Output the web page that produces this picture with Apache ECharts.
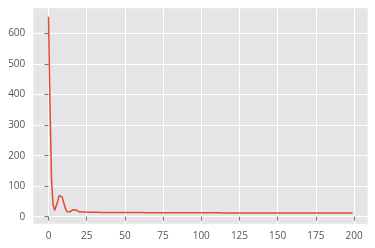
<!DOCTYPE html>
<html><head><meta charset="utf-8">
<script src="https://cdn.jsdelivr.net/npm/echarts@6/dist/echarts.min.js"></script>
<style>html,body{margin:0;padding:0;background:#fff}#c{width:375px;height:248px}</style>
</head><body><div id="c"></div>
<script>
const xTicks = [0, 25, 50, 75, 100, 125, 150, 175, 200];
const yTicks = [0, 100, 200, 300, 400, 500, 600];
const lossValues = [
  655, 360, 120, 40, 20, 26, 50, 70, 74, 64,
  45, 28, 17, 14, 16, 20, 23, 24, 22, 19,
  16, 15, 15, 15.5, 15.5, 15, 14.8, 14.6, 14.5, 14.4,
  14.3, 14.3, 14.2, 14.2, 14.1, 14.1, 14.0, 14.0, 14.0, 13.9,
  13.9, 13.9, 13.8, 13.8, 13.8, 13.7, 13.7, 13.7, 13.6, 13.6,
  13.6, 13.6, 13.5, 13.5, 13.5, 13.5, 13.4, 13.4, 13.4, 13.4,
  13.3, 13.3, 13.3, 13.3, 13.2, 13.2, 13.2, 13.2, 13.2, 13.1,
  13.1, 13.1, 13.1, 13.1, 13.0, 13.0, 13.0, 13.0, 13.0, 13.0,
  12.9, 12.9, 12.9, 12.9, 12.9, 12.9, 12.8, 12.8, 12.8, 12.8,
  12.8, 12.8, 12.7, 12.7, 12.7, 12.7, 12.7, 12.7, 12.7, 12.6,
  12.6, 12.6, 12.6, 12.6, 12.6, 12.6, 12.5, 12.5, 12.5, 12.5,
  12.5, 12.5, 12.5, 12.5, 12.4, 12.4, 12.4, 12.4, 12.4, 12.4,
  12.4, 12.4, 12.4, 12.3, 12.3, 12.3, 12.3, 12.3, 12.3, 12.3,
  12.3, 12.3, 12.3, 12.3, 12.2, 12.2, 12.2, 12.2, 12.2, 12.2,
  12.2, 12.2, 12.2, 12.2, 12.2, 12.2, 12.1, 12.1, 12.1, 12.1,
  12.1, 12.1, 12.1, 12.1, 12.1, 12.1, 12.1, 12.1, 12.1, 12.0,
  12.0, 12.0, 12.0, 12.0, 12.0, 12.0, 12.0, 12.0, 12.0, 12.0,
  12.0, 12.0, 12.0, 12.0, 12.0, 11.9, 11.9, 11.9, 11.9, 11.9,
  11.9, 11.9, 11.9, 11.9, 11.9, 11.9, 11.9, 11.9, 11.9, 11.9,
  11.9, 11.9, 11.9, 11.9, 11.9, 11.9, 11.9, 11.9, 11.9, 11.9
];
const seriesData = lossValues.map((v, i) => [i, v]);
const labelStyle = { color: '#555555', fontSize: 10, fontFamily: 'Open Sans' };
const chart = echarts.init(document.getElementById('c'), null, { renderer: 'canvas' });
chart.setOption({
  animation: false,
  grid: { left: 33.3, right: 7.3, top: 8.3, bottom: 24.3, show: true, backgroundColor: '#E5E5E5', borderWidth: 0 },
  xAxis: {
    type: 'value', min: -9.95, max: 208.95,
    axisLine: { show: false },
    axisTick: { show: true, length: 4, lineStyle: { color: '#555555', width: 0.8 }, customValues: xTicks },
    axisLabel: Object.assign({ customValues: xTicks, margin: 7 }, labelStyle),
    splitLine: { show: true, lineStyle: { color: '#ffffff', width: 1 } }
  },
  yAxis: {
    type: 'value', min: -23, max: 683,
    axisLine: { show: false },
    axisTick: { show: true, length: 4, lineStyle: { color: '#555555', width: 0.8 }, customValues: yTicks },
    axisLabel: Object.assign({ customValues: yTicks, margin: 8 }, labelStyle),
    splitLine: { show: true, lineStyle: { color: '#ffffff', width: 1 } }
  },
  series: [{
    type: 'line', data: seriesData, showSymbol: false, symbol: 'none',
    lineStyle: { color: '#E24A33', width: 1.5 }
  }]
});
</script></body></html>
